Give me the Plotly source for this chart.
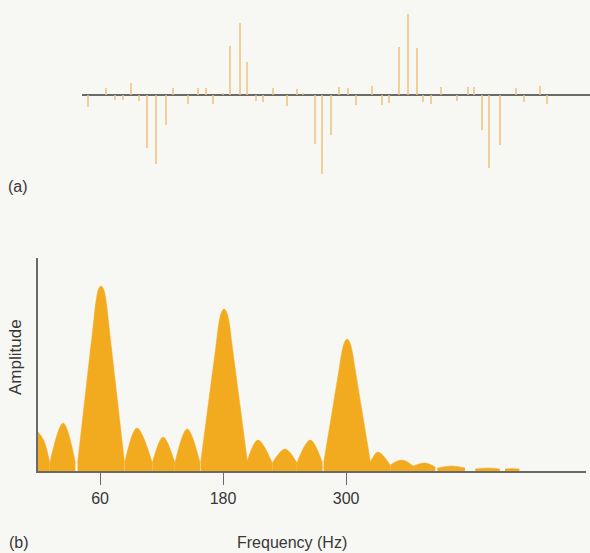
import plotly.graph_objects as go

# ---------------- Panel (a): sampled waveform (stem positions / values) ----------------
stem_t = [88, 106, 115, 123, 131, 139, 147, 156, 166, 173, 188, 198, 206, 213, 223,
          230, 240, 247, 256, 263, 273, 287, 297, 303, 315, 322, 331, 339, 348, 356,
          372, 382, 389, 399, 408, 417, 423, 431, 441, 457, 468, 474, 482, 489, 500,
          516, 524, 540, 547]
stem_v = [-12, 7, -5, -5, 12, -6, -53, -69, -30, 7, -9, 7, 7, -9, 2,
          49, 72, 33, -6, -7, 7, -11, 6, 2, -49, -79, -40, 8, 7, -10,
          9, -10, -8, 48, 81, 47, -7, -9, 8, -6, 8, 8, -35, -73, -50,
          7, -7, 9, -9]

# ---------------- Panel (b): amplitude spectrum, one list per lobe ----------------
lobe_freq = [
    [-0.5, 5, 11],
    [11, 24, 36],
    [38.1, 47.3, 53.2, 56.1, 58.6, 61, 63.4, 65.9, 68.8, 74.7, 83.9],
    [84, 96, 111],
    [111, 121.5, 133],
    [133, 145, 157.6],
    [158.1, 167.3, 173.2, 176.1, 178.6, 181, 183.4, 185.9, 188.8, 194.7, 203.9],
    [203, 214, 228],
    [228, 240.5, 252],
    [252, 265, 277],
    [278.1, 287.3, 293.2, 296.1, 298.6, 301, 303.4, 305.9, 308.8, 314.7, 323.9],
    [323, 331, 343],
    [343, 354.6, 365.4],
    [365.4, 377, 387],
    [389, 403, 416],
    [426, 438.5, 450],
    [455, 462, 469],
]
lobe_amp = [
    [39, 31, 8],
    [8, 48, 8],
    [8, 91, 144, 170, 182, 185, 182, 170, 144, 91, 8],
    [8, 43, 8],
    [8, 34, 8],
    [8, 42, 8],
    [8, 80, 126, 149, 159, 162, 159, 149, 126, 80, 8],
    [8, 31, 8],
    [8, 22, 8],
    [8, 31, 8],
    [8, 65, 102, 120, 129, 132, 129, 120, 102, 65, 8],
    [7, 19, 6],
    [6, 11, 5],
    [5, 8, 4],
    [3, 5, 3],
    [2, 3, 2],
    [2, 2.5, 2],
]
freq_ticks = [60, 180, 300]
freq_tick_text = ["60", "180", "300"]

W, H = 590, 553
BG = "#f7f7f3"
STEM = "#f0c27a"
FILL = "#f2ab1f"
AXIS = "#6a6a6a"
TXT = "#383838"
FONT = "Liberation Sans, Arial, sans-serif"

fig = go.Figure()

# stems
sx, sy = [], []
for t, v in zip(stem_t, stem_v):
    sx += [t, t, None]
    sy += [0, v, None]
fig.add_trace(go.Scatter(x=sx, y=sy, mode="lines", line=dict(color=STEM, width=1.5),
                         xaxis="x", yaxis="y", hoverinfo="skip", showlegend=False))

# spectrum lobes
for fx, fy in zip(lobe_freq, lobe_amp):
    fig.add_trace(go.Scatter(x=fx, y=fy, mode="lines", fill="tozeroy",
                             line=dict(color=FILL, width=0.5, shape="spline", smoothing=1.0),
                             fillcolor=FILL, xaxis="x2", yaxis="y2",
                             hoverinfo="skip", showlegend=False))

def py(px):  # pixel from top -> paper fraction
    return (H - px) / H

def label(text, x, y, size, angle=0):
    return dict(text=text, x=x / W, y=py(y), xref="paper", yref="paper",
                xanchor="center", yanchor="middle", showarrow=False,
                textangle=angle, font=dict(size=size, color=TXT, family=FONT))

fig.update_layout(
    width=W, height=H, autosize=False,
    margin=dict(l=0, r=0, t=0, b=0),
    paper_bgcolor=BG, plot_bgcolor="rgba(0,0,0,0)",
    font=dict(family=FONT, color=TXT, size=14),
    xaxis=dict(domain=[82 / W, 1], range=[82, 590], visible=False),
    yaxis=dict(domain=[py(185), py(5)], range=[-90, 90], showgrid=False,
               showticklabels=False, ticks="", zeroline=True,
               zerolinecolor=AXIS, zerolinewidth=1.6),
    xaxis2=dict(domain=[38 / W, 586 / W], range=[-0.5, 534], anchor="y2",
                showline=True, linecolor=AXIS, linewidth=1.6, showgrid=False,
                zeroline=False, ticks="outside", ticklen=12, tickwidth=1.4,
                tickcolor=AXIS, tickvals=freq_ticks, ticktext=freq_tick_text,
                tickfont=dict(size=16, color=TXT, family=FONT)),
    yaxis2=dict(domain=[py(471), py(258)], range=[0, 213], anchor="x2",
                showline=True, linecolor=AXIS, linewidth=1.6, showgrid=False,
                zeroline=False, ticks="", showticklabels=False),
    annotations=[
        label("(a)", 18, 187, 16),
        label("(b)", 19, 542, 16),
        label("Frequency (Hz)", 292, 542, 16),
        label("Amplitude", 15, 357, 17, angle=-90),
    ],
)

fig.write_html("out.html", config={"displayModeBar": False},
               post_script="document.body.style.margin='0px';"
                           "document.body.style.background='" + BG + "';")
